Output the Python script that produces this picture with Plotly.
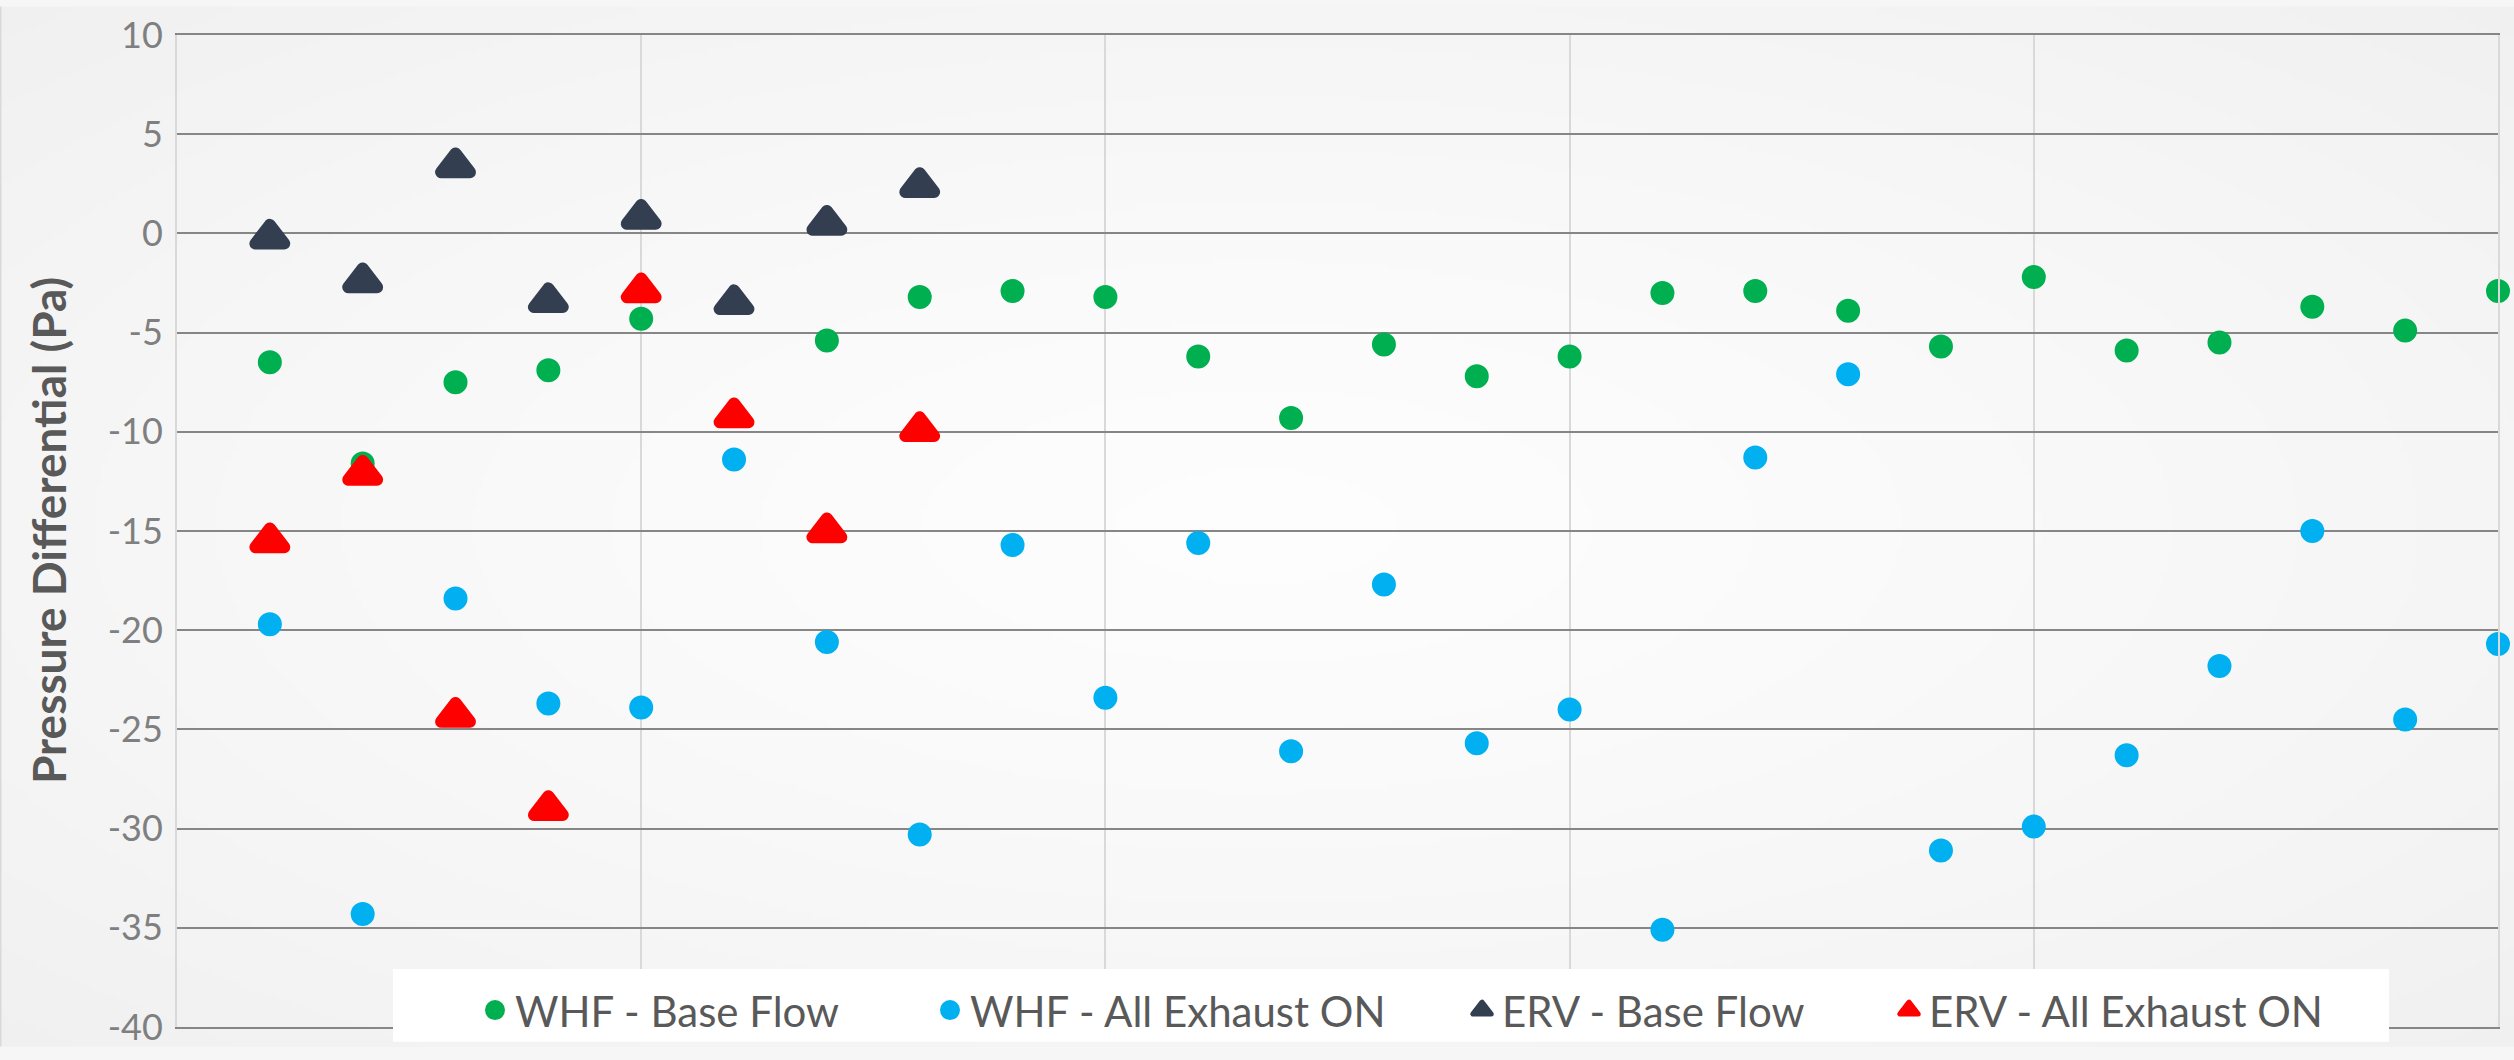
import base64
import struct
import zlib

import numpy as np
import plotly.graph_objects as go

# Run number along the horizontal axis
runs = list(range(1, 26))
erv_runs = list(range(1, 9))

# Pressure differential readings (Pa)
whf_base = [-6.5, -11.6, -7.5, -6.9, -4.3, None, -5.4, -3.2, -2.9, -3.2,
            -6.2, -9.3, -5.6, -7.2, -6.2, -3.0, -2.9, -3.9, -5.7, -2.2,
            -5.9, -5.5, -3.7, -4.9, -2.9]
whf_exhaust = [-19.7, -34.3, -18.4, -23.7, -23.9, -11.4, -20.6, -30.3, -15.7, -23.4,
               -15.6, -26.1, -17.7, -25.7, -24.0, -35.1, -11.3, -7.1, -31.1, -29.9,
               -26.3, -21.8, -15.0, -24.5, -20.7]
erv_base = [-0.2, -2.4, 3.4, -3.4, 0.8, -3.5, 0.5, 2.4]
erv_exhaust = [-15.5, -12.1, -24.3, -29.0, -2.9, -9.2, -15.0, -9.9]

series_names = ["WHF - Base Flow", "WHF - All Exhaust ON",
                "ERV - Base Flow", "ERV - All Exhaust ON"]
y_ticks = list(range(-40, 11, 5))
y_tick_text = [str(v) for v in y_ticks]
y_title = "Pressure Differential (Pa)"

# Canvas and plot-area geometry (pixels)
W, H = 2514, 1060
M_L, M_R, M_T, M_B = 177, 16, 29, 20
PW = W - M_L - M_R
PH = H - M_T - M_B


def px_x(px):
    return (px - M_L) / PW


def px_y(py):
    return (H - M_B - py) / PH


def radial_background(w=503, h=212):
    """Soft radial grey gradient encoded as an inline PNG."""
    yy, xx = np.mgrid[0:h, 0:w]
    dx = (xx + 0.5 - w / 2) / (w / 2)
    dy = (yy + 0.5 - h / 2) / (h / 2)
    r = np.sqrt(dx ** 2 + dy ** 2) / np.sqrt(2)
    v = np.clip(253 - 13 * r ** 1.3, 0, 255).round().astype(np.uint8)
    rgb = np.repeat(v[:, :, None], 3, axis=2)
    raw = b"".join(b"\x00" + rgb[i].tobytes() for i in range(h))

    def chunk(tag, data):
        return (struct.pack(">I", len(data)) + tag + data
                + struct.pack(">I", zlib.crc32(tag + data) & 0xFFFFFFFF))

    png = (b"\x89PNG\r\n\x1a\n"
           + chunk(b"IHDR", struct.pack(">IIBBBBB", w, h, 8, 2, 0, 0, 0))
           + chunk(b"IDAT", zlib.compress(raw, 9))
           + chunk(b"IEND", b""))
    return "data:image/png;base64," + base64.b64encode(png).decode()


GREEN, BLUE, SLATE, RED = "#00b050", "#00b0f0", "#333f50", "#ff0000"

fig = go.Figure()
fig.add_trace(go.Scatter(
    x=runs, y=whf_base, mode="markers", name=series_names[0], legend="legend",
    marker=dict(symbol="circle", size=20, color=GREEN, line=dict(width=4, color=GREEN)),
    cliponaxis=False))
fig.add_trace(go.Scatter(
    x=runs, y=whf_exhaust, mode="markers", name=series_names[1], legend="legend2",
    marker=dict(symbol="circle", size=20, color=BLUE, line=dict(width=4, color=BLUE)),
    cliponaxis=False))
fig.add_trace(go.Scatter(
    x=erv_runs, y=erv_base, mode="markers", name=series_names[2], legend="legend3",
    marker=dict(symbol="triangle-up", size=25, color=SLATE, line=dict(width=12, color=SLATE)),
    cliponaxis=False))
fig.add_trace(go.Scatter(
    x=erv_runs, y=erv_exhaust, mode="markers", name=series_names[3], legend="legend4",
    marker=dict(symbol="triangle-up", size=25, color=RED, line=dict(width=12, color=RED)),
    cliponaxis=False))

legend_font = dict(family="Lato", size=42, color="#595959")
legend_y = px_y(1023)


def legend_at(px):
    return dict(orientation="h", x=px_x(px), xanchor="left", y=legend_y, yanchor="middle",
                bgcolor="rgba(0,0,0,0)", borderwidth=0, font=legend_font)


fig.update_layout(
    width=W, height=H, autosize=False,
    margin=dict(l=M_L, r=M_R, t=M_T, b=M_B, pad=0),
    paper_bgcolor="#f6f6f6",
    plot_bgcolor="rgba(0,0,0,0)",
    showlegend=True,
    legend=legend_at(475),
    legend2=legend_at(930),
    legend3=legend_at(1462),
    legend4=legend_at(1889),
    xaxis=dict(range=[0, 25], tick0=0, dtick=5, showticklabels=False, ticks="",
               showgrid=True, gridcolor="#d9d9d9", gridwidth=2, zeroline=False,
               showline=True, linecolor="#868686", linewidth=2, mirror=True),
    yaxis=dict(range=[-40, 10], tickvals=y_ticks, ticktext=y_tick_text, ticks="",
               tickfont=dict(family="Lato", size=36, color="#7f7f7f"),
               ticklabelstandoff=5,
               showgrid=True, gridcolor="#868686", gridwidth=2, zeroline=False,
               showline=True, linecolor="#d9d9d9", linewidth=2, mirror=True),
    images=[dict(source=radial_background(), xref="paper", yref="paper",
                 x=px_x(0), y=px_y(0), sizex=W / PW, sizey=H / PH,
                 xanchor="left", yanchor="top", sizing="stretch", layer="below")],
    shapes=[
        # white legend panel
        dict(type="rect", xref="paper", yref="paper",
             x0=px_x(393), x1=px_x(2389), y0=px_y(1055), y1=px_y(981),
             fillcolor="#ffffff", line=dict(width=0), layer="above"),
        # chart border on the left edge
        dict(type="line", xref="paper", yref="paper",
             x0=px_x(0.75), x1=px_x(0.75), y0=px_y(H), y1=px_y(0),
             line=dict(color="#d9d9d9", width=1.5), layer="above"),
    ],
    annotations=[dict(text=y_title, textangle=-90, xref="paper", yref="paper",
                      x=px_x(48), y=0.5, xanchor="center", yanchor="middle",
                      showarrow=False,
                      font=dict(family="Lato", size=46, weight=700, color="#595959"))],
)

# rounded corners on the triangle markers
round_joins = (
    "var s=document.createElement('style');"
    "s.textContent='.scatterlayer path.point,.legendpoints path{stroke-linejoin:round;}';"
    "document.head.appendChild(s);"
)

fig.write_html("out.html", post_script=round_joins)
